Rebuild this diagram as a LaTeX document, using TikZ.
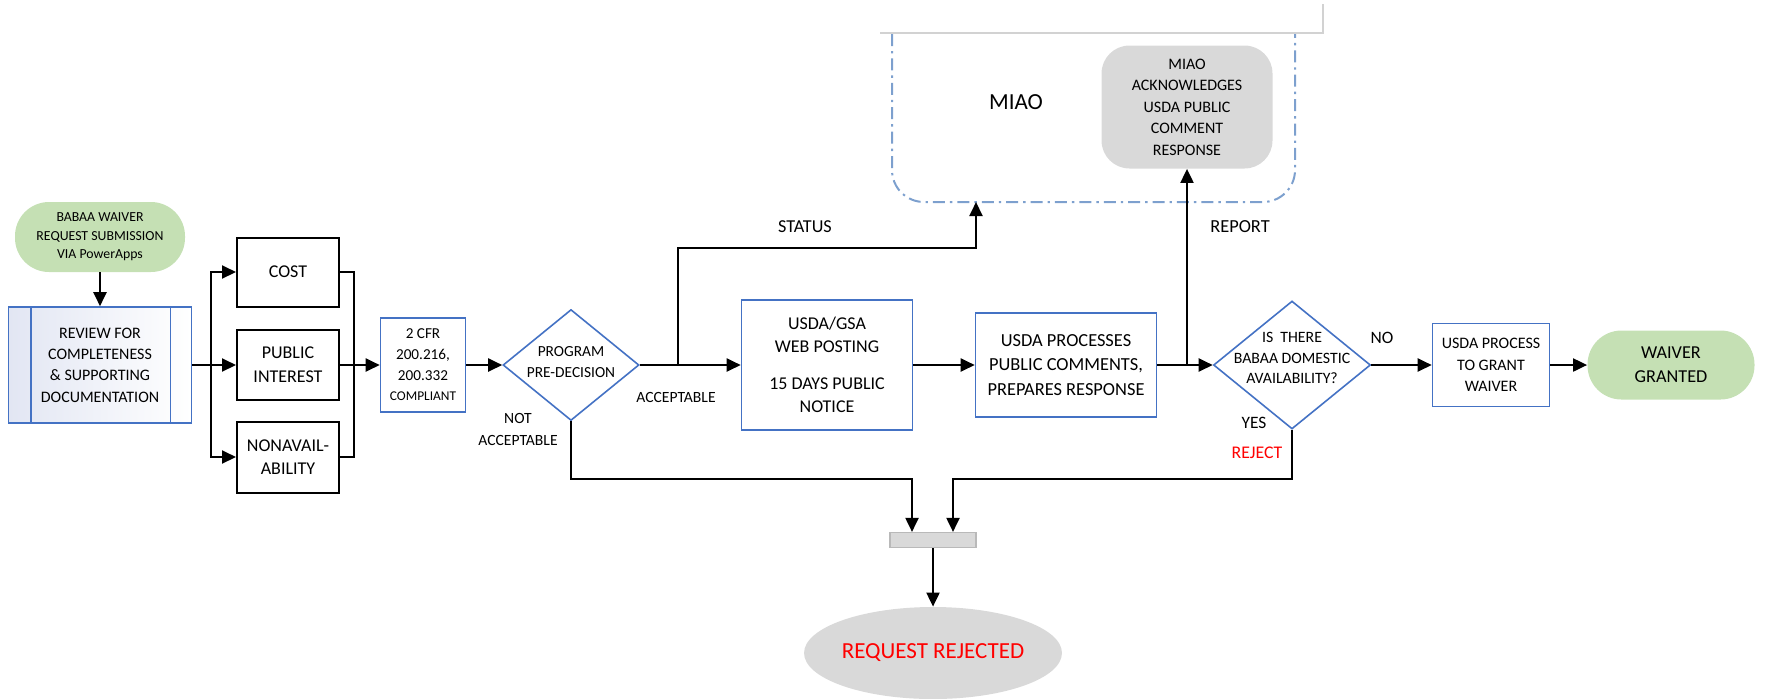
\documentclass[tikz,border=0pt]{standalone}
\usepackage{fontspec}
\setmainfont{Carlito}
\usetikzlibrary{shapes.geometric,arrows.meta}
\definecolor{boxblue}{RGB}{68,114,196}
\definecolor{termgreen}{RGB}{197,224,180}
\definecolor{shadegray}{RGB}{217,217,217}
\definecolor{miaoblue}{RGB}{125,160,206}
\definecolor{revfill}{RGB}{226,230,243}
\definecolor{rejred}{RGB}{255,0,0}
\newcommand{\fsz}[2]{\fontsize{#1}{#2}\selectfont}
\begin{document}
\begin{tikzpicture}[x=0.5pt,y=-0.5pt,
    conn/.style={line width=1pt},
    arr/.style={conn,-{Triangle[length=7pt,width=6.5pt]}},
    bluebox/.style={draw=boxblue,line width=0.8pt,fill=white,align=center,inner sep=0pt},
    blackbox/.style={draw,line width=1pt,align=center,inner sep=0pt,minimum width=51pt,font=\fsz{9}{11.8}},
    term/.style={fill=termgreen,rounded corners=17pt,align=center,inner sep=0pt},
    decision/.style={diamond,draw=boxblue,line width=0.8pt,inner sep=0pt},
    lbl/.style={align=center,inner sep=0pt}]
\useasboundingbox (0,0) rectangle (1765,698);

% MIAO lane
\draw[gray!35,line width=0.6pt] (880,33) -- (1323,33) -- (1323,4);
\draw[miaoblue,line width=1pt,dash pattern=on 6pt off 2.5pt on 1.2pt off 2.5pt,rounded corners=16pt] (892,34) -- (892,202) -- (1295,202) -- (1295,34);
\node[lbl,font=\fsz{11.5}{13}] (miao) at (1016,102) {MIAO};
\node[fill=shadegray,rounded corners=14pt,minimum width=85.5pt,minimum height=61.5pt,align=center,inner sep=0pt,font=\fsz{8}{10.75}] (ack) at (1187,107) {MIAO\\ACKNOWLEDGES\\USDA PUBLIC\\COMMENT\\RESPONSE};

% main flow
\node[term,minimum width=85pt,minimum height=35pt,font=\fsz{6.9}{9.25}] (start) at (100,237) {BABAA WAIVER\\REQUEST SUBMISSION\\VIA PowerApps};
\node[bluebox,left color=revfill,right color=white,minimum width=91.5pt,minimum height=58pt,font=\fsz{8}{10.7}] (review) at (100,365) {REVIEW FOR\\COMPLETENESS\\\& SUPPORTING\\DOCUMENTATION};
\draw[boxblue,line width=0.8pt] ([xshift=11.5pt]review.north west) -- ([xshift=11.5pt]review.south west)
    ([xshift=-11pt]review.north east) -- ([xshift=-11pt]review.south east);
\node[blackbox,minimum height=34.5pt] (cost) at (288,272) {COST};
\node[blackbox,minimum height=35pt] (public) at (288,365) {PUBLIC\\INTEREST};
\node[blackbox,minimum height=35.5pt] (nonav) at (288,457) {NONAVAIL-\\ABILITY};
\node[bluebox,minimum width=42.5pt,minimum height=47pt,font=\fsz{7.6}{10.3}] (cfr) at (423,365) {2 CFR\\200.216,\\200.332\\{\fsz{6.7}{10.3}COMPLIANT}};
\node[decision,minimum width=68pt,minimum height=55.5pt] (dec1) at (571,365) {};
\node[lbl,font=\fsz{7.7}{10.5}] (dec1txt) at (571,362) {PROGRAM\\PRE-DECISION};
\node[bluebox,minimum width=85.5pt,minimum height=65pt,font=\fsz{9}{11.5}] (post) at (827,365) {USDA/GSA\\WEB POSTING\\[7pt]15 DAYS PUBLIC\\NOTICE};
\node[bluebox,minimum width=90.5pt,minimum height=52pt,font=\fsz{9.2}{12.2}] (proc) at (1066,365) {USDA PROCESSES\\PUBLIC COMMENTS,\\PREPARES RESPONSE};
\node[decision,minimum width=78.5pt,minimum height=64pt] (dec2) at (1292,365) {};
\node[lbl,font=\fsz{7.9}{10.3}] (dec2txt) at (1292,358) {IS\ \ THERE\\BABAA DOMESTIC\\AVAILABILITY?};
\node[bluebox,minimum width=58.5pt,minimum height=41.5pt,font=\fsz{8}{10.75}] (grant) at (1491,365) {USDA PROCESS\\TO GRANT\\WAIVER};
\node[term,minimum width=83.5pt,minimum height=34.5pt,font=\fsz{9.1}{12}] (granted) at (1671,365) {WAIVER\\GRANTED};
\node[fill=shadegray,draw=gray!55,line width=0.6pt,minimum width=43pt,minimum height=7.5pt,inner sep=0pt] (bar) at (933,540) {};
\node[ellipse,fill=shadegray,minimum width=127pt,minimum height=46pt,inner sep=0pt,text=rejred,font=\fsz{11.5}{13}] (rej) at (933,653) {REQUEST REJECTED};

% labels
\node[lbl,font=\fsz{9.1}{11}] (status) at (805,227) {STATUS};
\node[lbl,font=\fsz{9.2}{11}] (report) at (1240,227) {REPORT};
\node[lbl,font=\fsz{7.8}{11}] (acc) at (676,397) {ACCEPTABLE};
\node[lbl,font=\fsz{7.8}{11}] (notacc) at (518,429) {NOT\\ACCEPTABLE};
\node[lbl,font=\fsz{8.7}{11}] (no) at (1382,338) {NO};
\node[lbl,font=\fsz{8.7}{11}] (yes) at (1254,423) {YES};
\node[lbl,font=\fsz{8.9}{11},text=rejred] (reject) at (1257,453) {REJECT};

% connectors
\coordinate (split) at (211,365);
\coordinate (merge) at (354,365);
\coordinate (stsplit) at (678,365);
\coordinate (stturn) at (976,248);
\coordinate (miaobot) at (976,202);
\coordinate (rpsplit) at (1187,365);
\coordinate (rj1) at (912,479);
\coordinate (rj2) at (953,479);
\draw[arr] (start) -- (review);
\draw[arr] (review) -- (public);
\draw[arr] (split) |- (cost);
\draw[arr] (split) |- (nonav);
\draw[conn] (cost) -| (merge) (nonav) -| (merge);
\draw[arr] (public) -- (cfr);
\draw[arr] (cfr) -- (dec1);
\draw[arr] (dec1) -- (post);
\draw[arr] (stsplit) |- (stturn) -- (miaobot);
\draw[arr] (post) -- (proc);
\draw[arr] (proc) -- (dec2);
\draw[arr] (rpsplit) -- (ack);
\draw[arr] (dec2) -- (grant);
\draw[arr] (grant) -- (granted);
\draw[arr] (dec1) |- (rj1) -- (rj1 |- bar.north);
\draw[arr] (dec2) |- (rj2) -- (rj2 |- bar.north);
\draw[arr] (bar) -- (rej);
\end{tikzpicture}
\end{document}
